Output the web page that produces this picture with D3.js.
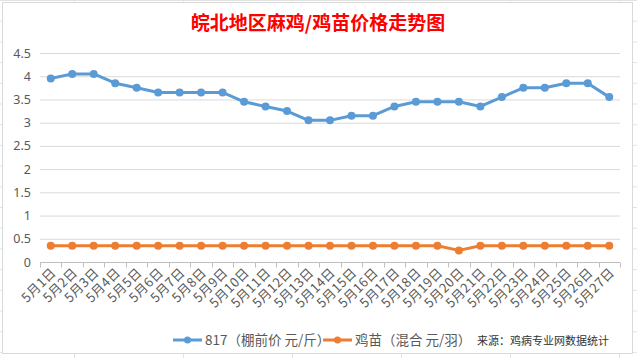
<!DOCTYPE html>
<html>
<head>
<meta charset="utf-8">
<script src="https://cdn.jsdelivr.net/npm/d3@7/dist/d3.min.js"></script>
<style>
  html, body { margin: 0; padding: 0; background: #fff; }
  svg { display: block; font-family: "Noto Sans CJK SC", "Noto Sans", sans-serif; }
</style>
</head>
<body>
<svg class="chart" width="637" height="358"></svg>
<script>
(function () {
    'use strict';

    var days = ['5月1日', '5月2日', '5月3日', '5月4日', '5月5日', '5月6日', '5月7日', '5月8日', '5月9日',
        '5月10日', '5月11日', '5月12日', '5月13日', '5月14日', '5月15日', '5月16日', '5月17日', '5月18日',
        '5月19日', '5月20日', '5月21日', '5月22日', '5月23日', '5月24日', '5月25日', '5月26日', '5月27日'];
    var price817 = [3.95, 4.05, 4.05, 3.85, 3.75, 3.65, 3.65, 3.65, 3.65, 3.45, 3.35, 3.25, 3.05, 3.05,
        3.15, 3.15, 3.35, 3.45, 3.45, 3.45, 3.35, 3.55, 3.75, 3.75, 3.85, 3.85, 3.55];
    var chickPrice = [0.35, 0.35, 0.35, 0.35, 0.35, 0.35, 0.35, 0.35, 0.35, 0.35, 0.35, 0.35, 0.35, 0.35,
        0.35, 0.35, 0.35, 0.35, 0.35, 0.25, 0.35, 0.35, 0.35, 0.35, 0.35, 0.35, 0.35];
    var yTicks = [0, 0.5, 1, 1.5, 2, 2.5, 3, 3.5, 4, 4.5];
    var seriesNames = ['817（棚前价 元/斤）', '鸡苗（混合 元/羽）'];
    var colors = ['#5B9BD5', '#ED7D31'];

    var svg = d3.select('.chart'), i;

    // spreadsheet cells behind the chart
    for (i = 0; i < 18; i += 1) {
        svg.append('line').attr('x1', 0).attr('x2', 637)
            .attr('y1', 0.5 + i * 20.7).attr('y2', 0.5 + i * 20.7)
            .attr('stroke', '#e3e3e3');
    }
    [74, 183, 292, 401, 510, 619].forEach(function (x) {
        svg.append('line').attr('x1', x + 0.5).attr('x2', x + 0.5)
            .attr('y1', 0).attr('y2', 358).attr('stroke', '#e3e3e3');
    });
    svg.append('rect').attr('x', 2.5).attr('y', 2.5).attr('width', 630).attr('height', 351)
        .attr('fill', '#fff').attr('stroke', '#d9d9d9');

    var x = d3.scaleBand().domain(days).range([40, 620]);
    var y = d3.scaleLinear().domain([0, 4.5]).range([262, 53]);

    svg.append('text')
        .attr('x', 318).attr('y', 30)
        .attr('text-anchor', 'middle')
        .attr('fill', '#ff0000')
        .attr('font-size', 19)
        .attr('font-weight', 'bold')
        .text('皖北地区麻鸡/鸡苗价格走势图');

    // gridlines + y labels
    var yAxis = svg.append('g')
        .call(d3.axisLeft(y).tickValues(yTicks).tickSize(-580).tickFormat(d3.format('')))
        .attr('transform', 'translate(40,0)');
    yAxis.select('.domain').remove();
    yAxis.selectAll('line').attr('stroke', '#d9d9d9');
    yAxis.selectAll('text').attr('x', -9).attr('fill', '#595959')
        .attr('font-size', 12.5).attr('font-family', '"Noto Sans", sans-serif');

    // category axis with ticks between categories
    var axisY = Math.round(y(0)) + 0.5;
    svg.append('line').attr('x1', 40).attr('x2', 620).attr('y1', axisY).attr('y2', axisY)
        .attr('stroke', '#bfbfbf');
    svg.append('g').selectAll('line')
        .data(days.concat(['end']))
        .join('line')
        .attr('x1', function (d, j) { return Math.round(40 + j * x.step()) + 0.5; })
        .attr('x2', function (d, j) { return Math.round(40 + j * x.step()) + 0.5; })
        .attr('y1', axisY).attr('y2', axisY + 5)
        .attr('stroke', '#bfbfbf');

    svg.append('g').selectAll('text')
        .data(days)
        .join('text')
        .attr('transform', function (d) {
            return 'translate(' + (x(d) + x.bandwidth() / 2 + 6) + ',' + (axisY + 11) + ') rotate(-45)';
        })
        .attr('text-anchor', 'end')
        .attr('fill', '#595959')
        .attr('font-size', 13)
        .attr('letter-spacing', 0.4)
        .text(function (d) { return d; });

    var line = d3.line()
        .x(function (d, j) { return x(days[j]) + x.bandwidth() / 2; })
        .y(function (d) { return y(d); });

    [price817, chickPrice].forEach(function (vals, s) {
        svg.append('path').datum(vals)
            .attr('d', line)
            .attr('fill', 'none')
            .attr('stroke', colors[s])
            .attr('stroke-width', 3)
            .attr('stroke-linejoin', 'round');
        svg.append('g').selectAll('circle')
            .data(vals)
            .join('circle')
            .attr('cx', function (d, j) { return x(days[j]) + x.bandwidth() / 2; })
            .attr('cy', function (d) { return y(d); })
            .attr('r', 4)
            .attr('fill', colors[s]);
    });

    // legend
    var legendX = [173, 323];
    seriesNames.forEach(function (name, s) {
        var g = svg.append('g').attr('transform', 'translate(' + legendX[s] + ',340)');
        g.append('line').attr('x1', 0).attr('x2', 29).attr('y1', 0).attr('y2', 0)
            .attr('stroke', colors[s]).attr('stroke-width', 3);
        g.append('circle').attr('cx', 14.5).attr('cy', 0).attr('r', 3.5).attr('fill', colors[s]);
        g.append('text').attr('x', 32).attr('y', 4.5)
            .attr('fill', '#595959').attr('font-size', 13.5)
            .text(name);
    });

    svg.append('text')
        .attr('x', 477).attr('y', 345)
        .attr('fill', '#333')
        .attr('font-size', 11)
        .text('来源：鸡病专业网数据统计');
}());
</script>
</body>
</html>
